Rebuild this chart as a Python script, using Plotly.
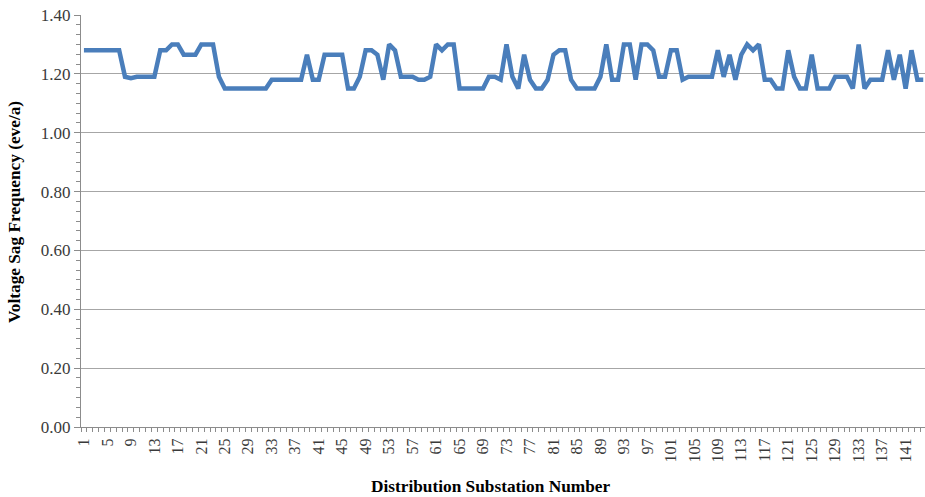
import plotly.graph_objects as go

# Voltage sag frequency (events per year) for each distribution substation
substation = list(range(1, 145))
sag_frequency = [
    1.28, 1.28, 1.28, 1.28, 1.28, 1.28, 1.28, 1.19, 1.185, 1.19,      # 1-10
    1.19, 1.19, 1.19, 1.28, 1.28, 1.30, 1.30, 1.265, 1.265, 1.265,    # 11-20
    1.30, 1.30, 1.30, 1.19, 1.15, 1.15, 1.15, 1.15, 1.15, 1.15,       # 21-30
    1.15, 1.15, 1.18, 1.18, 1.18, 1.18, 1.18, 1.18, 1.265, 1.18,      # 31-40
    1.18, 1.265, 1.265, 1.265, 1.265, 1.15, 1.15, 1.19, 1.28, 1.28,   # 41-50
    1.265, 1.18, 1.30, 1.28, 1.19, 1.19, 1.19, 1.18, 1.18, 1.19,      # 51-60
    1.30, 1.28, 1.30, 1.30, 1.15, 1.15, 1.15, 1.15, 1.15, 1.19,       # 61-70
    1.19, 1.18, 1.30, 1.19, 1.15, 1.265, 1.18, 1.15, 1.15, 1.18,      # 71-80
    1.265, 1.28, 1.28, 1.18, 1.15, 1.15, 1.15, 1.15, 1.19, 1.30,      # 81-90
    1.18, 1.18, 1.30, 1.30, 1.18, 1.30, 1.30, 1.28, 1.19, 1.19,       # 91-100
    1.28, 1.28, 1.18, 1.19, 1.19, 1.19, 1.19, 1.19, 1.28, 1.19,       # 101-110
    1.265, 1.18, 1.265, 1.30, 1.28, 1.30, 1.18, 1.18, 1.15, 1.15,     # 111-120
    1.28, 1.19, 1.15, 1.15, 1.265, 1.15, 1.15, 1.15, 1.19, 1.19,      # 121-130
    1.19, 1.15, 1.30, 1.15, 1.18, 1.18, 1.18, 1.28, 1.18, 1.265,      # 131-140
    1.15, 1.28, 1.18, 1.18,                                           # 141-144
]

y_ticks = [0.0, 0.2, 0.4, 0.6, 0.8, 1.0, 1.2, 1.4]
x_ticks = list(range(1, 145, 4))

AXIS_GRAY = "#8c8c8c"
GRID_GRAY = "#a6a6a6"
SERIF = "Liberation Serif, Times New Roman, serif"

fig = go.Figure()
fig.add_trace(go.Scatter(
    x=substation,
    y=sag_frequency,
    mode="lines",
    line=dict(color="#4a7ebb", width=4.5),
    hoverinfo="x+y",
))

fig.update_layout(
    width=925,
    height=497,
    margin=dict(l=81, r=0, t=15, b=70),
    paper_bgcolor="white",
    plot_bgcolor="white",
    showlegend=False,
    font=dict(family=SERIF, size=16, color="#3a3a3a"),
)

fig.update_xaxes(
    range=[0.5, 144.3],
    tickmode="array",
    tickvals=x_ticks,
    ticktext=[str(v) for v in x_ticks],
    tickangle=-90,
    ticks="outside",
    ticklen=4,
    tickcolor="rgba(0,0,0,0)",
    showgrid=False,
    zeroline=False,
    showline=True,
    linecolor=AXIS_GRAY,
    linewidth=1,
    tickfont=dict(family=SERIF, size=16, color="#3a3a3a"),
    minor=dict(tickmode="linear", tick0=0.5, dtick=1, ticks="outside",
               ticklen=4, tickcolor=AXIS_GRAY, tickwidth=1, showgrid=False),
)

fig.update_yaxes(
    range=[0, 1.4],
    tickmode="array",
    tickvals=y_ticks,
    ticktext=[f"{v:.2f}" for v in y_ticks],
    ticks="outside",
    ticklen=6,
    tickcolor=AXIS_GRAY,
    showgrid=True,
    gridcolor=GRID_GRAY,
    gridwidth=1,
    zeroline=False,
    showline=True,
    linecolor=AXIS_GRAY,
    linewidth=1,
    tickfont=dict(family=SERIF, size=17, color="#3a3a3a"),
    minor=dict(tickmode="linear", tick0=0, dtick=0.2 / 6, ticks="outside",
               ticklen=4, tickcolor=AXIS_GRAY, tickwidth=1, showgrid=False),
)

# Axis titles
fig.add_annotation(
    text="<b>Distribution Substation Number</b>",
    xref="paper", yref="paper", x=0.4846, y=-0.1456,
    xanchor="center", yanchor="middle", showarrow=False,
    font=dict(family=SERIF, size=17.3, color="black"),
)
fig.add_annotation(
    text="<b>Voltage Sag Frequency (eve/a)</b>",
    xref="paper", yref="paper", x=-0.078, y=0.522,
    xanchor="center", yanchor="middle", textangle=-90, showarrow=False,
    font=dict(family=SERIF, size=17.3, color="black"),
)

fig.write_html("out.html")
